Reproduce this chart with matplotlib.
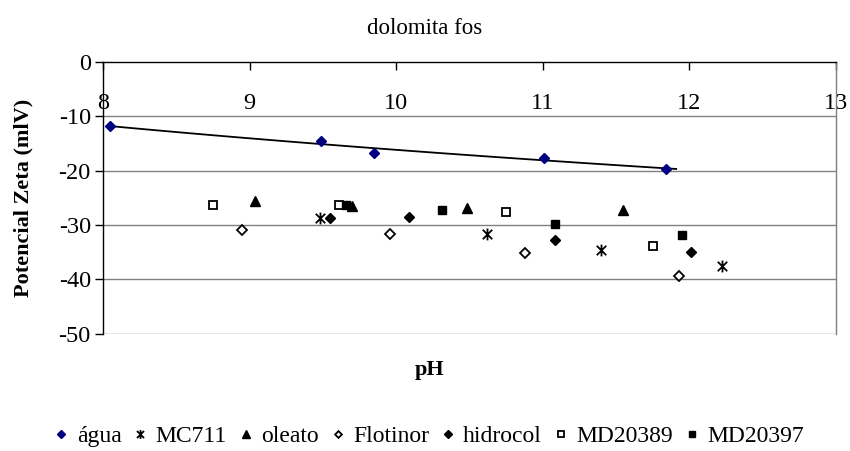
import numpy as np
import matplotlib
matplotlib.use("Agg")
import matplotlib.pyplot as plt
from matplotlib.path import Path

plt.rcParams['font.family'] = ['Liberation Serif', 'DejaVu Serif']

# Zeta potential (mV) versus pH for each reagent
agua_ph = [8.05, 9.49, 9.85, 11.01, 11.84]
agua_zeta = [-11.8, -14.5, -16.8, -17.7, -19.7]

mc711_ph = [9.48, 10.62, 11.40, 12.22]
mc711_zeta = [-28.8, -31.7, -34.6, -37.6]

oleato_ph = [9.04, 9.70, 10.48, 11.55]
oleato_zeta = [-25.6, -26.5, -26.8, -27.3]

flotinor_ph = [8.95, 9.96, 10.88, 11.93]
flotinor_zeta = [-30.9, -31.7, -35.2, -39.5]

hidrocol_ph = [9.55, 10.09, 11.08, 12.01]
hidrocol_zeta = [-28.8, -28.5, -32.8, -34.9]

md20389_ph = [8.75, 9.61, 10.75, 11.75]
md20389_zeta = [-26.3, -26.3, -27.7, -33.9]

md20397_ph = [9.66, 10.31, 11.08, 11.95]
md20397_zeta = [-26.3, -27.2, -29.8, -31.9]

x_ticks = [8, 9, 10, 11, 12, 13]
y_ticks = [0, -10, -20, -30, -40, -50]

# asterisk-like star: two diagonals and a vertical bar
star = Path([(-1, -1), (1, 1), (-1, 1), (1, -1), (0, -1.25), (0, 1.25)],
            [Path.MOVETO, Path.LINETO, Path.MOVETO, Path.LINETO,
             Path.MOVETO, Path.LINETO])

fig = plt.figure(figsize=(8.5, 4.51), dpi=100)
ax = fig.add_axes([103 / 850, 1 - 333.5 / 451, 733 / 850, (333.5 - 62) / 451])

ax.set_xlim(8, 13)
ax.set_ylim(-50, 0)

grid_c = '#808080'
for yv in y_ticks[1:]:
    ax.axhline(yv, color=grid_c, lw=1.0, zorder=1)

ax.spines['top'].set_visible(False)
ax.spines['right'].set_color(grid_c)
ax.spines['right'].set_linewidth(1.0)
ax.spines['left'].set_color('black')
ax.spines['left'].set_linewidth(1.0)
ax.spines['bottom'].set_position(('data', 0))
ax.spines['bottom'].set_color('black')
ax.spines['bottom'].set_linewidth(1.0)
ax.spines['bottom'].set_zorder(3)

ax.set_xticks(x_ticks)
ax.set_xticklabels([str(v) for v in x_ticks])
ax.set_yticks(y_ticks)
ax.set_yticklabels([str(v) for v in y_ticks])
ax.tick_params(axis='x', direction='out', length=5.5, width=1, pad=17,
               labelsize=17.5, colors='black')
ax.tick_params(axis='y', direction='out', length=5.8, width=1, pad=3,
               labelsize=17.5, colors='black')

# log trend line through the água points
lx = np.log(agua_ph)
b, a = np.polyfit(lx, agua_zeta, 1)
xs = np.linspace(min(agua_ph), max(agua_ph) + 0.07, 100)
ax.plot(xs, a + b * np.log(xs), color='black', lw=1.3, zorder=4)

kw = dict(linestyle='none', zorder=5)
ax.plot(agua_ph, agua_zeta, marker='D', ms=5.3, color='#000080',
        mec='#000080', label='água', **kw)
ax.plot(mc711_ph, mc711_zeta, marker=star, ms=8.5, color='black',
        mew=1.3, label='MC711', **kw)
ax.plot(oleato_ph, oleato_zeta, marker='^', ms=7.5, color='black',
        label='oleato', **kw)
ax.plot(flotinor_ph, flotinor_zeta, marker='D', ms=4.6, mfc='white',
        mec='black', mew=1.3, label='Flotinor', **kw)
ax.plot(hidrocol_ph, hidrocol_zeta, marker='D', ms=5.3, color='black',
        label='hidrocol', **kw)
ax.plot(md20389_ph, md20389_zeta, marker='s', ms=5.5, mfc='white',
        mec='black', mew=1.3, label='MD20389', **kw)
ax.plot(md20397_ph, md20397_zeta, marker='s', ms=6, color='black',
        label='MD20397', **kw)

fig.text(0.5, 1 - 28 / 451, 'dolomita fos', ha='center', va='center',
         fontsize=16.5)
fig.text(430 / 850, 1 - 370 / 451, 'pH', ha='center', va='center',
         fontsize=16, fontweight='bold')
fig.text(23 / 850, 1 - 198 / 451, 'Potencial Zeta (mlV)', ha='center',
         va='center', rotation=90, fontsize=16, fontweight='bold')

handles, labels = ax.get_legend_handles_labels()
leg = fig.legend(handles, labels, loc='center', ncol=7,
                 bbox_to_anchor=(429 / 850, 1 - 436 / 451), frameon=False,
                 fontsize=17, handlelength=0.6, handletextpad=0.35,
                 columnspacing=0.5, markerscale=0.75, borderaxespad=0)

fig.savefig('out.png', dpi=100)
